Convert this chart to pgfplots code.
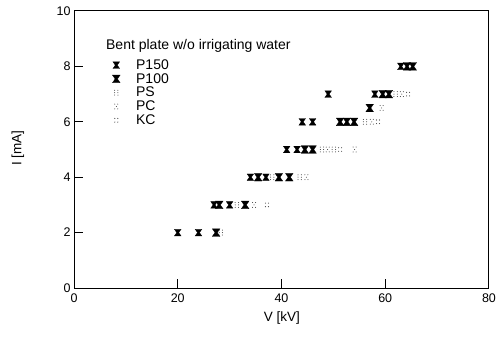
\documentclass[border=0pt]{standalone}
\usepackage{fontspec}
\setmainfont{Liberation Sans}
\usepackage{pgfplots}
\pgfplotsset{compat=1.18}
\pgfdeclareplotmark{hourglass}{%
  \pgfpathmoveto{\pgfqpoint{-\pgfplotmarksize}{\pgfplotmarksize}}%
  \pgfpathlineto{\pgfqpoint{\pgfplotmarksize}{\pgfplotmarksize}}%
  \pgfpathlineto{\pgfqpoint{0.3\pgfplotmarksize}{0pt}}%
  \pgfpathlineto{\pgfqpoint{\pgfplotmarksize}{-\pgfplotmarksize}}%
  \pgfpathlineto{\pgfqpoint{-\pgfplotmarksize}{-\pgfplotmarksize}}%
  \pgfpathlineto{\pgfqpoint{-0.3\pgfplotmarksize}{0pt}}%
  \pgfpathclose\pgfusepathqfillstroke}
\pgfdeclareplotmark{dotsA}{%
  \pgfpathcircle{\pgfpoint{-0.55*\pgfplotmarksize}{-0.8*\pgfplotmarksize}}{0.5pt}%
  \pgfpathcircle{\pgfpoint{-0.55*\pgfplotmarksize}{0pt}}{0.5pt}%
  \pgfpathcircle{\pgfpoint{-0.55*\pgfplotmarksize}{0.8*\pgfplotmarksize}}{0.5pt}%
  \pgfpathcircle{\pgfpoint{0.55*\pgfplotmarksize}{-0.8*\pgfplotmarksize}}{0.5pt}%
  \pgfpathcircle{\pgfpoint{0.55*\pgfplotmarksize}{0pt}}{0.5pt}%
  \pgfpathcircle{\pgfpoint{0.55*\pgfplotmarksize}{0.8*\pgfplotmarksize}}{0.5pt}%
  \pgfusepathqfill}
\pgfdeclareplotmark{dotsB}{%
  \pgfpathcircle{\pgfpoint{-0.5*\pgfplotmarksize}{-0.8*\pgfplotmarksize}}{0.5pt}%
  \pgfpathcircle{\pgfpoint{0.5*\pgfplotmarksize}{-0.8*\pgfplotmarksize}}{0.5pt}%
  \pgfpathcircle{\pgfpoint{0pt}{0pt}}{0.5pt}%
  \pgfpathcircle{\pgfpoint{-0.5*\pgfplotmarksize}{0.8*\pgfplotmarksize}}{0.5pt}%
  \pgfpathcircle{\pgfpoint{0.5*\pgfplotmarksize}{0.8*\pgfplotmarksize}}{0.5pt}%
  \pgfusepathqfill}
\pgfdeclareplotmark{dotsC}{%
  \pgfpathcircle{\pgfpoint{-0.5*\pgfplotmarksize}{-0.6*\pgfplotmarksize}}{0.55pt}%
  \pgfpathcircle{\pgfpoint{0.5*\pgfplotmarksize}{-0.6*\pgfplotmarksize}}{0.55pt}%
  \pgfpathcircle{\pgfpoint{-0.5*\pgfplotmarksize}{0.6*\pgfplotmarksize}}{0.55pt}%
  \pgfpathcircle{\pgfpoint{0.5*\pgfplotmarksize}{0.6*\pgfplotmarksize}}{0.55pt}%
  \pgfusepathqfill}
\begin{document}
\begin{tikzpicture}
\begin{axis}[
  at={(0,0)}, anchor=south west,
  scale only axis, width=415pt, height=277pt,
  xmin=0, xmax=80, ymin=0, ymax=10,
  xtick={0,20,40,60,80}, ytick={0,2,4,6,8,10},
  tick pos=left, tick align=inside,
  major tick length=9pt,
  axis line style={line width=1pt},
  every tick/.style={black, line width=1pt},
  tick label style={font=\fontsize{12.5}{14}\selectfont},
  x tick label style={yshift=-2pt},
  /pgf/number format/assume math mode=true,
  xlabel={V [kV]}, ylabel={I [mA]},
  x label style={at={(axis description cs:0.501,-0.108)}, anchor=center, font=\fontsize{13.5}{15}\selectfont},
  y label style={at={(axis description cs:-0.135,0.505)}, anchor=center, font=\fontsize{13.5}{15}\selectfont},
  legend style={at={(axis description cs:0.08,0.84)}, anchor=north west, draw=none, fill=none,
    font=\fontsize{14}{15}\selectfont, row sep=-1.5pt},
  legend cell align=left,
  legend image code/.code={\path (0cm,0cm) (0.82cm,0cm); \draw[#1] plot coordinates {(0.2cm,0cm)};},
]
\addplot[only marks, mark=hourglass, mark size=3.3pt, black, line width=0.3pt] coordinates {
(20,2) (24,2) (27,3) (30,3) (34,4) (37,4) (41,5) (43,5) (44,6) (46,6) (49,7) (58,7) (63,8)};
\addlegendentry{P150}
\addplot[only marks, mark=hourglass, mark size=3.8pt, black, line width=0.3pt] coordinates {
(27.4,2) (28,3) (33,3) (35.5,4) (39.5,4) (41.5,4) (44.5,5) (46,5) (51.3,6) (52.6,6) (54,6) (57,6.5) (59.5,7) (60.7,7) (64.2,8) (65.3,8)};
\addlegendentry{P100}
\addplot[only marks, mark=dotsA, mark size=3pt, black!80] coordinates {
(28.3,2) (31.4,3) (38.2,4) (43.5,4) (47.8,5) (50.1,5) (56.1,6) (62,7)};
\addlegendentry{PS}
\addplot[only marks, mark=dotsB, mark size=3pt, black!80] coordinates {
(34.7,3) (44.8,4) (48.9,5) (54.1,5) (57.4,6) (59.3,6.5) (63.2,7)};
\addlegendentry{PC}
\addplot[only marks, mark=dotsC, mark size=3pt, black!80] coordinates {
(37.2,3) (51.3,5) (58.6,6) (64.4,7)};
\addlegendentry{KC}
\node[anchor=west, font=\fontsize{14}{15}\selectfont, inner sep=0pt] at (axis description cs:0.077,0.874) {Bent plate w/o irrigating water};
\end{axis}
\pgfresetboundingbox
\path (-74pt,-60pt) rectangle (428pt,288pt);
\end{tikzpicture}
\end{document}
